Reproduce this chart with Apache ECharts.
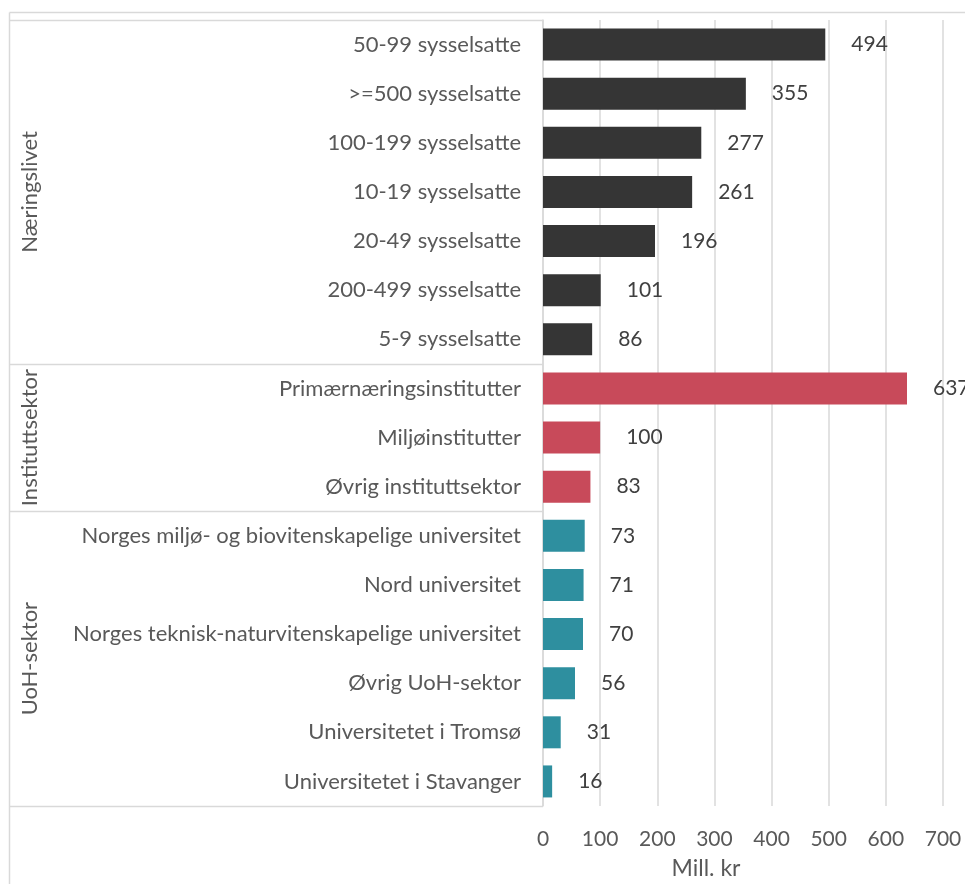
<!DOCTYPE html>
<html>
<head>
<meta charset="utf-8">
<script src="https://cdn.jsdelivr.net/npm/echarts@6/dist/echarts.min.js"></script>
<style>
  html, body { margin: 0; padding: 0; background: #ffffff; }
  #chart { width: 965px; height: 884px; }
</style>
</head>
<body>
<div id="chart"></div>
<script>
// Categories (top to bottom), their values in Mill. kr and sector group
const categories = [
  '50-99 sysselsatte', '>=500 sysselsatte', '100-199 sysselsatte', '10-19 sysselsatte',
  '20-49 sysselsatte', '200-499 sysselsatte', '5-9 sysselsatte',
  'Primærnæringsinstitutter', 'Miljøinstitutter', 'Øvrig instituttsektor',
  'Norges miljø- og biovitenskapelige universitet', 'Nord universitet',
  'Norges teknisk-naturvitenskapelige universitet', 'Øvrig UoH-sektor',
  'Universitetet i Tromsø', 'Universitetet i Stavanger'
];
const values = [494, 355, 277, 261, 196, 101, 86, 637, 100, 83, 73, 71, 70, 56, 31, 16];
const groupOf = [0, 0, 0, 0, 0, 0, 0, 1, 1, 1, 2, 2, 2, 2, 2, 2];
const groupNames = ['Næringslivet', 'Instituttsektor', 'UoH-sektor'];
const groupColors = ['#353535', '#c84a5a', '#2e8f9f'];
const xTicks = [0, 100, 200, 300, 400, 500, 600, 700];
const xTitle = 'Mill. kr';

const FONT = 'Lato, "Open Sans", sans-serif';
const FS_CAT = 22;   // category and group names
const FS_NUM = 21;   // value labels and tick labels
const FS_TITLE = 23; // axis title
const TEXT = '#595959';
const LINE = '#d9d9d9';

const chart = echarts.init(document.getElementById('chart'));

const GRID = { left: 543, right: 22, top: 20, bottom: 78 };

function build() {
  const w = chart.getWidth();
  const h = chart.getHeight();
  const plotTop = GRID.top, plotBottom = h - GRID.bottom;
  const band = (plotBottom - plotTop) / categories.length;

  // group boundaries (index ranges)
  const ranges = [];
  groupOf.forEach((g, i) => {
    if (!ranges[g]) ranges[g] = { start: i, end: i };
    ranges[g].end = i;
  });

  const graphics = [];
  // outer chart border (top and left)
  graphics.push({ type: 'line', shape: { x1: 9.5, y1: 12.5, x2: w, y2: 12.5 }, style: { stroke: LINE, lineWidth: 1.5 }, silent: true });
  graphics.push({ type: 'line', shape: { x1: 9.5, y1: 12.5, x2: 9.5, y2: h }, style: { stroke: LINE, lineWidth: 1.5 }, silent: true });
  // category box separators
  const seps = [0];
  ranges.forEach(r => seps.push(r.end + 1));
  seps.forEach(k => {
    const y = Math.round(plotTop + k * band) + 0.5;
    graphics.push({ type: 'line', shape: { x1: 10, y1: y, x2: GRID.left, y2: y }, style: { stroke: LINE, lineWidth: 1.5 }, silent: true });
  });
  // rotated group names
  ranges.forEach((r, g) => {
    const yc = plotTop + ((r.start + r.end + 1) / 2) * band;
    graphics.push({
      type: 'text', x: 30, y: yc, rotation: Math.PI / 2, silent: true,
      style: { text: groupNames[g], font: FS_CAT + 'px ' + FONT, fill: TEXT, textAlign: 'center', textVerticalAlign: 'middle' }
    });
  });
  // axis title
  graphics.push({
    type: 'text', x: 706, y: 869, silent: true,
    style: { text: xTitle, font: FS_TITLE + 'px ' + FONT, fill: TEXT, textAlign: 'center', textVerticalAlign: 'middle' }
  });

  chart.setOption({
    animation: false,
    backgroundColor: '#ffffff',
    textStyle: { fontFamily: FONT },
    grid: { left: GRID.left, right: GRID.right, top: GRID.top, bottom: GRID.bottom, containLabel: false },
    xAxis: {
      type: 'value', min: xTicks[0], max: xTicks[xTicks.length - 1], interval: 100,
      axisLine: { show: false }, axisTick: { show: false },
      axisLabel: { color: TEXT, fontSize: FS_NUM, fontFamily: FONT, margin: 23 },
      splitLine: { show: true, lineStyle: { color: LINE, width: 1.5 } }
    },
    yAxis: {
      type: 'category', inverse: true, data: categories,
      axisLine: { show: true, lineStyle: { color: LINE, width: 1.5 } },
      axisTick: { show: false },
      axisLabel: { color: TEXT, fontSize: FS_CAT, fontFamily: FONT, margin: 22 }
    },
    series: [{
      type: 'bar',
      barWidth: 32,
      data: values.map((v, i) => ({ value: v, itemStyle: { color: groupColors[groupOf[i]] } })),
      label: { show: true, position: 'right', distance: 26, color: '#404040', fontSize: FS_NUM, fontFamily: FONT }
    }],
    graphic: graphics
  });
}

build();
</script>
</body>
</html>
